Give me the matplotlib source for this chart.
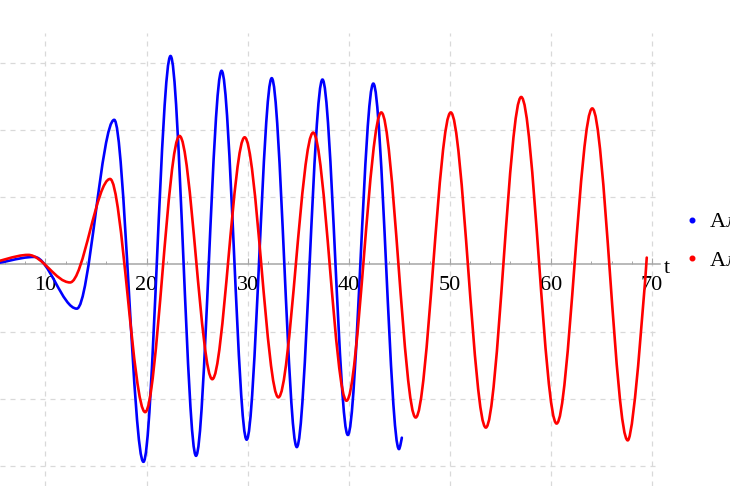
import matplotlib.pyplot as plt
from matplotlib.path import Path
from matplotlib.patches import PathPatch
from matplotlib.lines import Line2D
from matplotlib.ticker import MultipleLocator

plt.rcParams['font.family'] = ['Liberation Serif', 'DejaVu Serif']

# extrema of each curve (t, value); last point is where the curve stops
blue_t = [4.0, 8.9, 13.1, 16.8, 19.69, 22.37, 24.89, 27.42, 29.9, 32.38, 34.86,
          37.4, 39.91, 42.43, 44.97, 45.25]
blue_v = [0.0, 0.11, -0.66, 2.15, -2.94, 3.10, -2.85, 2.88, -2.61, 2.77, -2.72,
          2.75, -2.54, 2.69, -2.75, -2.58]

red_t = [4.0, 8.3, 12.43, 16.39, 19.86, 23.26, 26.5, 29.7, 33.04, 36.48, 39.78,
         43.22, 46.62, 50.09, 53.56, 57.06, 60.56, 64.09, 67.6, 69.48]
red_v = [0.02, 0.14, -0.27, 1.27, -2.20, 1.91, -1.71, 1.89, -1.98, 1.96, -2.03,
         2.26, -2.28, 2.26, -2.43, 2.49, -2.37, 2.32, -2.62, 0.10]

labels = ["Алгоритм 1", "Алгоритм 2"]
xticks = [10, 20, 30, 40, 50, 60, 70]

fig = plt.figure(figsize=(7.3, 4.86), dpi=100)
ax = fig.add_axes([0, 0, 660 / 730, (486 - 33) / 486])


def curve(ts, vs, color):
    # smooth cubic segments between consecutive extrema
    verts = [(ts[0], vs[0])]
    codes = [Path.MOVETO]
    for i in range(len(ts) - 1):
        dt = ts[i + 1] - ts[i]
        c1 = (ts[i] + dt / 3, vs[i])
        c2 = (ts[i + 1] - dt / 3, vs[i + 1])
        if i == len(ts) - 2:
            c2 = (ts[i + 1], vs[i + 1])
        verts += [c1, c2, (ts[i + 1], vs[i + 1])]
        codes += [Path.CURVE4] * 3
    ax.add_patch(PathPatch(Path(verts, codes), fill=False, edgecolor=color,
                           lw=1.9, capstyle='round', joinstyle='round', zorder=3))


curve(blue_t, blue_v, (0, 0, 1))
curve(red_t, red_v, (1, 0, 0))

ax.set_xlim(5.499, 70.79)
ax.set_ylim(-3.299, 3.442)

ax.set_xticks(xticks)
ax.xaxis.set_minor_locator(MultipleLocator(2))
ax.set_yticks([-3, -2, -1, 1, 2, 3])
ax.grid(True, color='#d9d9d9', lw=0.9, ls=(0, (4, 4)))
ax.set_axisbelow(True)

for s in ['left', 'right', 'top']:
    ax.spines[s].set_visible(False)
ax.spines['bottom'].set_position(('data', 0))
ax.spines['bottom'].set_color('#a6a6a6')
ax.spines['bottom'].set_linewidth(1.1)
ax.tick_params(axis='y', left=False, labelleft=False)
ax.tick_params(axis='x', which='major', direction='in', length=4.5, width=0.8,
               color='#a6a6a6', labelsize=16, pad=8.5)
ax.tick_params(axis='x', which='minor', direction='in', length=2.5, width=0.7,
               color='#a6a6a6')

fig.text(664 / 730, 1 - 273 / 486, 't', fontsize=16, va='baseline', ha='left')

handles = [Line2D([], [], ls='none', marker='o', ms=3.3, color=(0, 0, 1)),
           Line2D([], [], ls='none', marker='o', ms=3.3, color=(1, 0, 0))]
fig.legend(handles, labels, loc='center left', bbox_to_anchor=(681 / 730, 1 - 241.3 / 486),
           frameon=False, fontsize=16, handlelength=1.0, handletextpad=0.3,
           labelspacing=0.8, borderpad=0, borderaxespad=0)

plt.savefig('out.png', dpi=100)
